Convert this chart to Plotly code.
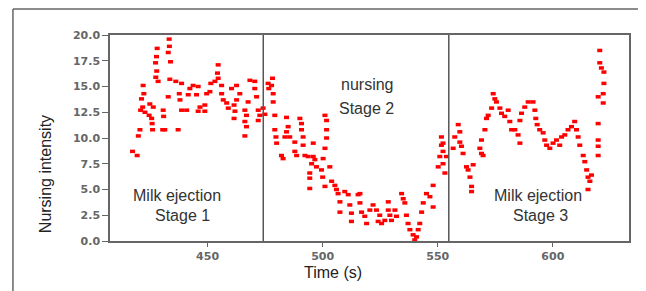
import plotly.graph_objects as go

# Time (s) and nursing intensity
time_s = [417.4, 419.4, 419.9, 420.6, 420.9, 421.3, 421.8, 422.0, 422.3, 422.8,
          424.6, 424.9, 425.7, 425.9, 426.1, 426.4, 427.4, 427.5, 427.8, 427.9,
          428.1, 428.5, 430.5, 430.7, 430.9, 431.4, 432.9, 432.9, 433.3, 433.4,
          433.6, 433.9, 436.2, 437.2, 437.7, 438.0, 438.7, 438.7, 440.9, 441.6,
          442.3, 443.7, 445.2, 445.9, 445.9, 446.7, 448.8, 448.8, 449.6, 451.0,
          451.4, 453.2, 454.3, 454.6, 454.6, 456.1, 456.1, 456.8, 458.3, 459.0,
          460.4, 461.5, 461.5, 461.9, 462.6, 462.6, 464.0, 466.2, 466.2, 466.2,
          466.9, 466.9, 467.6, 468.4, 470.5, 470.5, 471.3, 472.0, 472.0, 472.7,
          474.1, 474.9, 476.3, 476.6, 477.8, 478.2, 478.5, 478.5, 479.2, 479.2,
          479.7, 480.0, 482.1, 482.8, 483.6, 484.3, 484.3, 485.0, 485.7, 487.9,
          487.9, 488.7, 490.1, 490.8, 490.8, 491.5, 491.5, 492.3, 493.7, 494.4,
          494.4, 494.4, 495.2, 495.9, 495.9, 496.6, 497.3, 499.5, 500.0, 500.2,
          501.0, 501.0, 501.0, 501.7, 501.7, 501.7, 503.1, 503.9, 505.3, 506.0,
          506.7, 507.5, 507.5, 509.6, 511.1, 511.8, 512.5, 512.5, 515.4, 516.2,
          516.2, 516.9, 518.3, 519.1, 520.5, 521.9, 523.4, 524.1, 524.8, 525.6,
          527.0, 528.5, 528.5, 529.2, 529.9, 531.4, 532.1, 534.3, 535.0, 535.7,
          536.4, 537.1, 537.9, 539.3, 540.0, 540.8, 541.5, 542.2, 543.0, 543.7,
          545.1, 546.6, 548.0, 548.0, 550.2, 550.9, 551.6, 551.6, 552.3, 552.3,
          552.3, 553.1, 553.8, 556.7, 557.4, 558.9, 559.6, 559.6, 560.3, 561.0,
          562.5, 563.2, 564.0, 564.7, 564.7, 565.4, 568.3, 569.0, 569.0, 569.7,
          570.5, 571.2, 571.9, 573.4, 574.1, 574.8, 575.5, 577.0, 577.7, 579.1,
          580.6, 581.3, 582.1, 583.5, 584.9, 585.7, 585.7, 586.4, 587.8, 589.3,
          591.4, 592.2, 592.6, 593.2, 594.3, 595.8, 596.5, 597.3, 598.7, 600.1,
          601.6, 603.0, 603.8, 605.2, 606.6, 608.1, 609.5, 610.3, 611.0, 611.7,
          613.2, 613.9, 614.7, 615.3, 615.3, 616.1, 616.8, 619.7, 619.7, 619.7,
          619.7, 619.7, 620.4, 620.4, 621.1, 621.9, 621.9, 622.2, 622.2]
intensity = [8.7, 8.3, 10.2, 10.8, 12.7, 13.8, 13.0, 15.1, 14.3, 12.5,
             12.2, 13.3, 11.9, 11.4, 10.8, 13.0, 17.3, 15.9, 17.9, 16.5,
             18.7, 15.5, 10.8, 12.7, 12.1, 10.8, 18.3, 14.0, 19.6, 18.9,
             15.7, 17.4, 15.5, 10.8, 14.3, 13.7, 15.3, 12.7, 12.7, 14.2,
             14.8, 15.1, 14.2, 15.0, 12.6, 13.0, 13.2, 12.6, 14.3, 14.5,
             15.3, 15.5, 16.3, 17.1, 15.8, 15.1, 14.3, 13.7, 13.4, 12.9,
             14.8, 13.2, 11.9, 12.6, 15.1, 13.7, 14.3, 12.7, 11.6, 10.2,
             12.2, 11.1, 13.5, 15.6, 15.5, 14.8, 14.0, 12.7, 11.7, 12.2,
             12.9, 12.3, 15.3, 14.8, 15.1, 15.8, 14.3, 13.5, 12.2, 10.8,
             10.1, 9.5, 8.3, 8.0, 10.1, 12.0, 10.6, 11.1, 10.1, 9.6,
             8.7, 8.3, 11.9, 11.4, 10.8, 10.1, 9.3, 8.3, 8.2, 6.6,
             6.1, 5.1, 7.5, 9.5, 8.2, 7.9, 7.2, 6.9, 6.2, 8.0,
             12.2, 9.0, 5.3, 11.7, 10.8, 10.0, 7.2, 5.8, 5.4, 5.0,
             4.6, 3.8, 2.8, 4.8, 4.5, 3.5, 2.7, 1.9, 4.5, 4.6,
             3.7, 2.8, 2.4, 1.7, 3.0, 3.5, 3.0, 1.9, 2.5, 1.7,
             2.0, 3.8, 3.0, 2.5, 2.0, 3.0, 2.4, 4.6, 4.1, 3.7,
             2.5, 1.7, 1.1, 0.6, 0.1, 0.4, 1.1, 1.7, 2.8, 3.7,
             4.6, 4.3, 3.3, 5.4, 7.2, 8.2, 9.3, 10.1, 7.5, 9.5,
             8.7, 6.6, 8.2, 9.0, 10.1, 11.3, 10.6, 9.6, 9.2, 8.5,
             7.2, 6.9, 6.2, 5.3, 4.8, 7.4, 9.0, 9.8, 8.5, 8.3,
             10.8, 11.9, 12.2, 12.9, 14.3, 13.8, 13.5, 12.9, 12.4, 12.1,
             12.7, 11.6, 10.8, 10.8, 10.3, 9.5, 11.7, 12.4, 13.0, 13.5,
             13.5, 12.7, 11.9, 11.3, 10.8, 10.5, 9.8, 9.3, 9.0, 9.5,
             9.8, 9.3, 10.1, 10.3, 10.8, 11.1, 11.6, 10.8, 10.1, 9.3,
             8.3, 7.7, 6.9, 6.2, 5.0, 5.8, 6.4, 8.3, 9.2, 9.8,
             11.4, 14.0, 18.5, 17.3, 16.8, 14.3, 13.4, 16.4, 15.3]

stage_bounds = [474.2, 554.8]
label_texts = ["Milk ejection", "Stage 1", "nursing", "Stage 2", "Milk ejection", "Stage 3"]
label_x = [436.7, 439.0, 519.2, 519.2, 593.5, 594.6]
label_y = [4.37, 2.43, 15.15, 12.9, 4.37, 2.43]
y_ticks = [0, 2.5, 5, 7.5, 10, 12.5, 15, 17.5, 20]
x_ticks = [450, 500, 550, 600]

fig = go.Figure()
fig.add_trace(go.Scatter(
    x=time_s, y=intensity, mode="markers",
    marker=dict(symbol="line-ew", size=3.6, color="#ff0000",
                line=dict(color="#ff0000", width=3.5)),
    cliponaxis=False, showlegend=False))

shapes = []
for b in stage_bounds:
    shapes.append(dict(type="line", xref="x", yref="y", x0=b, x1=b, y0=0, y1=20.2,
                       line=dict(color="#555555", width=1.5)))
# outer frame of the figure image
shapes.append(dict(type="line", xref="paper", yref="paper", x0=-0.187, x1=-0.187,
                   y0=-0.3, y1=1.126, line=dict(color="#666666", width=1.5)))
shapes.append(dict(type="line", xref="paper", yref="paper", x0=-0.187, x1=1.1,
                   y0=1.126, y1=1.126, line=dict(color="#666666", width=1.5)))

annotations = []
for t, x, y in zip(label_texts, label_x, label_y):
    annotations.append(dict(text=t, x=x, y=y, xref="x", yref="y", showarrow=False,
                            xanchor="center", yanchor="middle",
                            font=dict(family="Liberation Sans", size=16, color="#333333")))
annotations.append(dict(text="Time (s)", x=0.429, y=-0.155, xref="paper", yref="paper",
                        showarrow=False, xanchor="center", yanchor="middle",
                        font=dict(family="Liberation Sans", size=16, color="#222222")))
annotations.append(dict(text="Nursing intensity", x=-0.125, y=0.325, xref="paper", yref="paper",
                        showarrow=False, xanchor="center", yanchor="middle", textangle=-90,
                        font=dict(family="Liberation Sans", size=16, color="#222222")))

fig.update_layout(
    width=638, height=283,
    margin=dict(l=102, r=17, t=27, b=50),
    paper_bgcolor="white", plot_bgcolor="white",
    shapes=shapes, annotations=annotations,
    xaxis=dict(range=[407.6, 633.1], tickvals=x_ticks, showgrid=False, zeroline=False,
               showline=True, mirror=True, linecolor="#666666", linewidth=1.5,
               ticks="outside", ticklen=4, tickcolor="#666666",
               tickfont=dict(family="DejaVu Sans", size=11, color="#666666", weight="bold")),
    yaxis=dict(range=[0, 20], tickvals=y_ticks, tickformat=".1f", showgrid=False, zeroline=False,
               showline=True, mirror=True, linecolor="#666666", linewidth=1.5,
               ticks="outside", ticklen=6, tickcolor="#666666",
               tickfont=dict(family="DejaVu Sans", size=11, color="#666666", weight="bold")),
)

fig.write_html("out.html")
